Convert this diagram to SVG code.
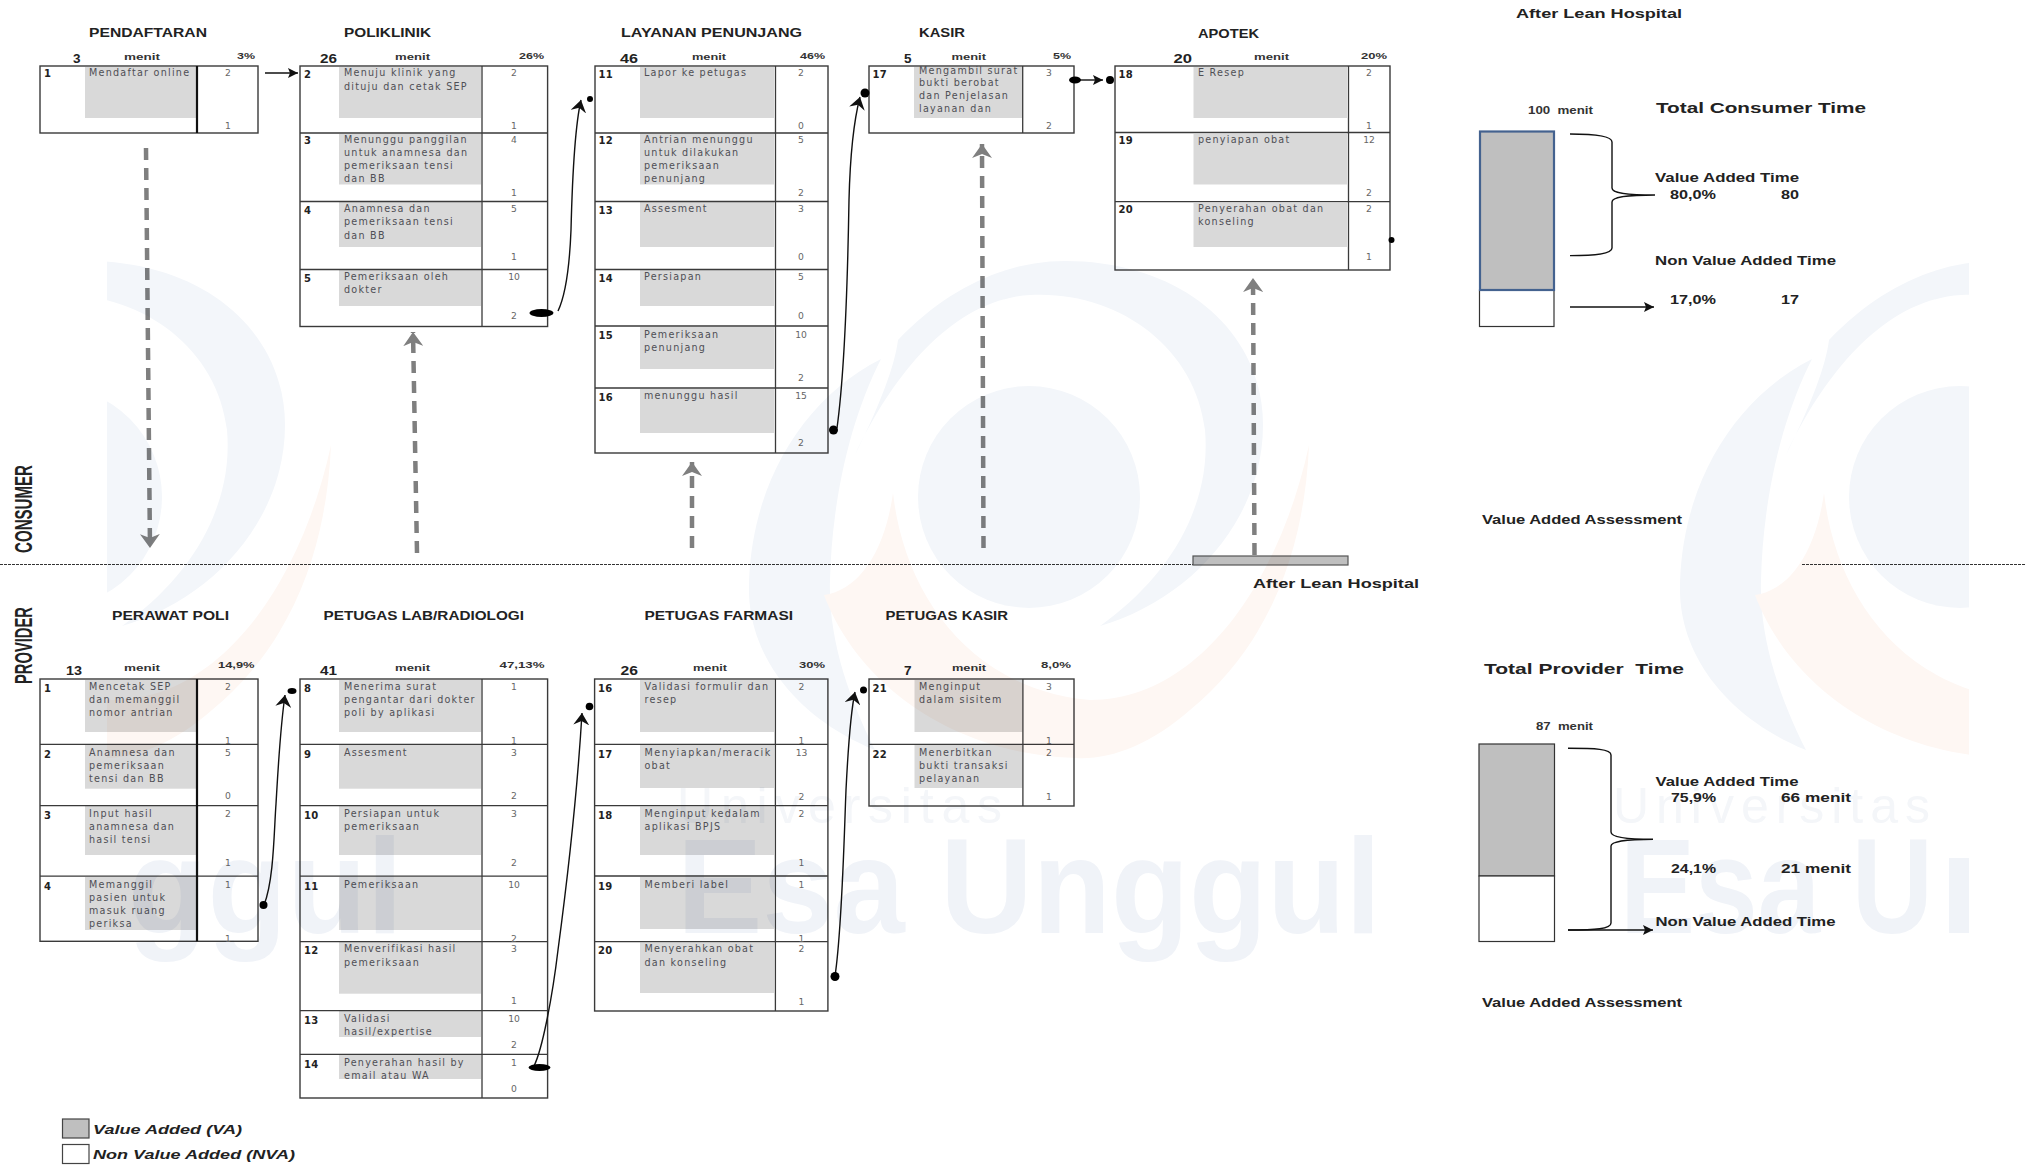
<svg xmlns="http://www.w3.org/2000/svg" width="2026" height="1166" viewBox="0 0 2026 1166">
<style>
text{font-family:"DejaVu Sans","Liberation Sans",sans-serif}
.g{fill:#d9d9d9}
.b{fill:none;stroke:#3a3a3a;stroke-width:1.4}
.l{stroke:#3a3a3a;stroke-width:1.3;fill:none}
.t{font-size:9.6px;letter-spacing:1.25px;fill:#4f4f55}
.v{font-size:9.2px;fill:#666;text-anchor:middle}
.n{font-size:10px;font-weight:700;fill:#222;letter-spacing:.3px}
.h,.s,.m{font-family:"Liberation Sans",sans-serif;font-weight:700;fill:#222}
.h{font-size:12px}
.s{font-size:12px}
.m{font-size:8.6px;fill:#333}
.big{font-size:13.5px;fill:#222;font-family:"Liberation Sans",sans-serif;font-weight:700}
.dash{fill:none;stroke:#7f7f7f;stroke-width:4.5;stroke-dasharray:12 8}
.conn{fill:none;stroke:#111;stroke-width:1.4}
.wb{fill:#f3f6fa}
.wp{fill:#fef7f3}
.we{font-family:"Liberation Sans",sans-serif;font-weight:700;font-size:135px;fill:#f0f3f8}
.wu{font-family:"Liberation Sans",sans-serif;font-size:50px;fill:#f4f6f9}
.leg{font-family:"Liberation Sans",sans-serif;font-weight:700;font-style:italic;font-size:13.5px;fill:#222}
.side{font-family:"Liberation Sans",sans-serif;font-size:23px;font-weight:700;fill:#222}
</style>
<defs>
<marker id="ga" markerUnits="userSpaceOnUse" markerWidth="16" markerHeight="20" refX="14" refY="10" orient="auto"><path d="M0,0 L14,10 L0,20 L4,10Z" fill="#7f7f7f"/></marker>
<marker id="ka" markerUnits="userSpaceOnUse" markerWidth="14" markerHeight="16" refX="12" refY="8" orient="auto"><path d="M0,0 L12,8 L0,16 L4,8Z" fill="#111"/></marker>
<marker id="kb" markerUnits="userSpaceOnUse" markerWidth="11" markerHeight="10" refX="10" refY="5" orient="auto"><path d="M0,0 L10,5 L0,10 L2,5Z" fill="#111"/></marker>
<clipPath id="wc"><rect x="107" y="200" width="1862" height="780"/></clipPath>
<g id="logo">
<circle class="wb" cx="1029" cy="497" r="111"/>
<path class="wb" d="M855,455 C880,405 895,365 898,340 C950,285 1010,261 1065,261 C1180,261 1263,330 1263,425 C1263,520 1190,600 1100,626 C1165,580 1212,510 1205,430 C1195,345 1115,290 1030,295 C950,300 890,380 855,455Z"/>
<path class="wb" d="M881,359 C800,400 749,490 749,590 C749,650 790,715 875,750 C850,700 828,640 830,580 C832,500 850,420 881,359Z"/>
<path class="wp" d="M1309,445 C1305,540 1275,640 1190,710 C1150,745 1110,760 1076,758 C960,755 860,690 824,595 C860,590 885,550 893,493 C905,600 975,690 1090,700 C1200,700 1280,580 1309,445Z"/>
</g>
</defs>
<rect width="2026" height="1166" fill="#fff"/>

<g id="side-labels">
<text class="side" transform="translate(32,553) rotate(-90)" textLength="88" lengthAdjust="spacingAndGlyphs">CONSUMER</text>
<text class="side" transform="translate(32,684) rotate(-90)" textLength="77" lengthAdjust="spacingAndGlyphs">PROVIDER</text>
</g>

<g id="divider">
<path d="M0,564.5H1193M1802,564.5H2026" fill="none" stroke="#333" stroke-width="1" stroke-dasharray="3 1"/>
<rect x="1193" y="556" width="155" height="9" fill="#bfbfbf" stroke="#555" stroke-width="1.2"/>
</g>

<g id="pendaftaran">
<text class="h" x="89" y="37" textLength="118" lengthAdjust="spacingAndGlyphs">PENDAFTARAN</text>
<text class="big" x="73" y="63">3</text><text class="m" x="124" y="60" textLength="36" lengthAdjust="spacingAndGlyphs">menit</text><text class="m" x="237" y="58.5" textLength="18" lengthAdjust="spacingAndGlyphs">3%</text>
<rect class="g" x="85" y="67" width="111" height="51"/>
<rect class="b" x="40" y="66" width="218" height="67"/><path d="M197,66V133" stroke="#111" stroke-width="2.2"/>
<text class="n" x="44" y="77">1</text><text class="t" x="89" y="76">Mendaftar online</text><text class="v" x="228" y="76">2</text><text class="v" x="228" y="129">1</text>
</g>

<g id="poliklinik">
<text class="h" x="344" y="37" textLength="87" lengthAdjust="spacingAndGlyphs">POLIKLINIK</text>
<text class="big" x="320" y="63" textLength="17" lengthAdjust="spacingAndGlyphs">26</text><text class="m" x="395" y="60" textLength="35" lengthAdjust="spacingAndGlyphs">menit</text><text class="m" x="519" y="58.5" textLength="25" lengthAdjust="spacingAndGlyphs">26%</text>
<rect class="g" x="339" y="67" width="142" height="51"/><rect class="g" x="339" y="134" width="142" height="50.5"/><rect class="g" x="339" y="202" width="142" height="45"/><rect class="g" x="339" y="270" width="142" height="36"/>
<rect class="b" x="300" y="66" width="247.6" height="260.5"/><path class="l" d="M300,133H547.6M300,201.5H547.6M300,269.5H547.6M482,66V326.5"/>
<text class="n" x="304" y="78">2</text><text class="t" x="344" y="76">Menuju klinik yang</text><text class="t" x="344" y="90">dituju dan cetak SEP</text><text class="v" x="514" y="76">2</text><text class="v" x="514" y="129">1</text>
<text class="n" x="304" y="144">3</text><text class="t" x="344" y="142.5">Menunggu panggilan</text><text class="t" x="344" y="155.5">untuk anamnesa dan</text><text class="t" x="344" y="168.5">pemeriksaan tensi</text><text class="t" x="344" y="181.5">dan BB</text><text class="v" x="514" y="143">4</text><text class="v" x="514" y="195.5">1</text>
<text class="n" x="304" y="213.5">4</text><text class="t" x="344" y="212">Anamnesa dan</text><text class="t" x="344" y="225">pemeriksaan tensi</text><text class="t" x="344" y="239">dan BB</text><text class="v" x="514" y="212">5</text><text class="v" x="514" y="259.5">1</text>
<text class="n" x="304" y="281.5">5</text><text class="t" x="344" y="280">Pemeriksaan oleh</text><text class="t" x="344" y="293">dokter</text><text class="v" x="514" y="280">10</text><text class="v" x="514" y="318.5">2</text>
</g>

<g id="layanan-penunjang">
<text class="h" x="621" y="37" textLength="181" lengthAdjust="spacingAndGlyphs">LAYANAN PENUNJANG</text>
<text class="big" x="620" y="63" textLength="18" lengthAdjust="spacingAndGlyphs">46</text><text class="m" x="692" y="60" textLength="34" lengthAdjust="spacingAndGlyphs">menit</text><text class="m" x="800" y="58.5" textLength="25" lengthAdjust="spacingAndGlyphs">46%</text>
<rect class="g" x="640" y="67" width="134" height="51"/><rect class="g" x="640" y="134" width="134" height="50.5"/><rect class="g" x="640" y="202" width="134" height="45"/><rect class="g" x="640" y="270" width="134" height="36"/><rect class="g" x="640" y="327" width="134" height="42"/><rect class="g" x="640" y="389" width="134" height="44"/>
<rect class="b" x="595" y="66" width="233" height="387"/><path class="l" d="M595,133H828M595,201.5H828M595,269.5H828M595,326H828M595,388H828M775.5,66V453"/>
<text class="n" x="598.5" y="78">11</text><text class="t" x="644" y="76">Lapor ke petugas</text><text class="v" x="801" y="76">2</text><text class="v" x="801" y="129">0</text>
<text class="n" x="598.5" y="144">12</text><text class="t" x="644" y="143">Antrian menunggu</text><text class="t" x="644" y="156">untuk dilakukan</text><text class="t" x="644" y="169">pemeriksaan</text><text class="t" x="644" y="181.5">penunjang</text><text class="v" x="801" y="143">5</text><text class="v" x="801" y="195.5">2</text>
<text class="n" x="598.5" y="213.5">13</text><text class="t" x="644" y="212">Assesment</text><text class="v" x="801" y="212">3</text><text class="v" x="801" y="259.5">0</text>
<text class="n" x="598.5" y="281.5">14</text><text class="t" x="644" y="280">Persiapan</text><text class="v" x="801" y="280">5</text><text class="v" x="801" y="318.5">0</text>
<text class="n" x="598.5" y="339">15</text><text class="t" x="644" y="338">Pemeriksaan</text><text class="t" x="644" y="351">penunjang</text><text class="v" x="801" y="338">10</text><text class="v" x="801" y="381">2</text>
<text class="n" x="598.5" y="400.5">16</text><text class="t" x="644" y="399">menunggu hasil</text><text class="v" x="801" y="399">15</text><text class="v" x="801" y="445.5">2</text>
</g>

<g id="kasir">
<text class="h" x="919" y="37" textLength="46" lengthAdjust="spacingAndGlyphs">KASIR</text>
<text class="big" x="904" y="63">5</text><text class="m" x="951.5" y="60" textLength="34.5" lengthAdjust="spacingAndGlyphs">menit</text><text class="m" x="1053" y="58.5" textLength="18" lengthAdjust="spacingAndGlyphs">5%</text>
<rect class="g" x="914" y="67" width="108" height="51"/>
<rect class="b" x="869" y="66" width="205" height="67"/><path class="l" d="M1022.7,66V133"/>
<text class="n" x="872.5" y="78">17</text><text class="t" x="919" y="73.5">Mengambil surat</text><text class="t" x="919" y="86">bukti berobat</text><text class="t" x="919" y="99">dan Penjelasan</text><text class="t" x="919" y="112">layanan dan</text><text class="v" x="1049" y="76">3</text><text class="v" x="1049" y="129">2</text>
</g>

<g id="apotek">
<text class="h" x="1198" y="37.5" textLength="61" lengthAdjust="spacingAndGlyphs">APOTEK</text>
<text class="big" x="1173.5" y="63" textLength="18.5" lengthAdjust="spacingAndGlyphs">20</text><text class="m" x="1254" y="60" textLength="35" lengthAdjust="spacingAndGlyphs">menit</text><text class="m" x="1361" y="58.5" textLength="26" lengthAdjust="spacingAndGlyphs">20%</text>
<rect class="g" x="1193.5" y="67" width="153.5" height="51"/><rect class="g" x="1193.5" y="134" width="153.5" height="50.5"/><rect class="g" x="1193.5" y="203" width="153.5" height="44"/>
<rect class="b" x="1115" y="66" width="275" height="204"/><path class="l" d="M1115,132.5H1390M1115,201.7H1390M1348.5,66V270"/>
<text class="n" x="1118.5" y="78">18</text><text class="t" x="1198" y="76">E Resep</text><text class="v" x="1369" y="76">2</text><text class="v" x="1369" y="129">1</text>
<text class="n" x="1118.5" y="144">19</text><text class="t" x="1198" y="143">penyiapan obat</text><text class="v" x="1369" y="143">12</text><text class="v" x="1369" y="195.5">2</text>
<text class="n" x="1118.5" y="213">20</text><text class="t" x="1198" y="212">Penyerahan obat dan</text><text class="t" x="1198" y="225">konseling</text><text class="v" x="1369" y="212">2</text><text class="v" x="1369" y="260">1</text>
</g>

<g id="perawat-poli">
<text class="h" x="112" y="619.5" textLength="117" lengthAdjust="spacingAndGlyphs">PERAWAT POLI</text>
<text class="big" x="66" y="674.5" textLength="16" lengthAdjust="spacingAndGlyphs">13</text><text class="m" x="124" y="671" textLength="36" lengthAdjust="spacingAndGlyphs">menit</text><text class="m" x="218" y="667.5" textLength="36.5" lengthAdjust="spacingAndGlyphs">14,9%</text>
<rect class="g" x="85" y="680" width="111" height="52"/><rect class="g" x="85" y="745" width="111" height="43.7"/><rect class="g" x="85" y="806" width="111" height="49"/><rect class="g" x="85" y="877" width="111" height="53"/>
<rect class="b" x="40" y="679" width="218" height="262.3"/><path class="l" d="M40,744.3H258M40,805.6H258M40,876.2H258"/><path d="M197,679V941.3" stroke="#111" stroke-width="2.2"/>
<text class="n" x="44" y="692">1</text><text class="t" x="89" y="690">Mencetak SEP</text><text class="t" x="89" y="703">dan memanggil</text><text class="t" x="89" y="716">nomor antrian</text><text class="v" x="228" y="690">2</text><text class="v" x="228" y="744">1</text>
<text class="n" x="44" y="757.5">2</text><text class="t" x="89" y="755.5">Anamnesa dan</text><text class="t" x="89" y="768.5">pemeriksaan</text><text class="t" x="89" y="781.5">tensi dan BB</text><text class="v" x="228" y="755.5">5</text><text class="v" x="228" y="799">0</text>
<text class="n" x="44" y="819">3</text><text class="t" x="89" y="817">Input hasil</text><text class="t" x="89" y="830">anamnesa dan</text><text class="t" x="89" y="843">hasil tensi</text><text class="v" x="228" y="817">2</text><text class="v" x="228" y="866">1</text>
<text class="n" x="44" y="889.5">4</text><text class="t" x="89" y="887.5">Memanggil</text><text class="t" x="89" y="900.5">pasien untuk</text><text class="t" x="89" y="913.5">masuk ruang</text><text class="t" x="89" y="926.5">periksa</text><text class="v" x="228" y="887.5">1</text><text class="v" x="228" y="941.5">1</text>
</g>

<g id="petugas-lab">
<text class="h" x="323.5" y="619.5" textLength="200.5" lengthAdjust="spacingAndGlyphs">PETUGAS LAB/RADIOLOGI</text>
<text class="big" x="320" y="674.5" textLength="17" lengthAdjust="spacingAndGlyphs">41</text><text class="m" x="395" y="671" textLength="35" lengthAdjust="spacingAndGlyphs">menit</text><text class="m" x="499.5" y="667.5" textLength="45" lengthAdjust="spacingAndGlyphs">47,13%</text>
<rect class="g" x="339" y="680" width="142" height="52"/><rect class="g" x="339" y="745" width="142" height="43.7"/><rect class="g" x="339" y="806" width="142" height="49"/><rect class="g" x="339" y="877" width="142" height="53"/><rect class="g" x="339" y="942" width="142" height="51.7"/><rect class="g" x="339" y="1011" width="142" height="26"/><rect class="g" x="339" y="1055" width="142" height="24"/>
<rect class="b" x="300" y="679" width="247.6" height="419"/><path class="l" d="M300,744.3H547.6M300,805.6H547.6M300,876.2H547.6M300,941.6H547.6M300,1010.7H547.6M300,1054.4H547.6M482,679V1098"/>
<text class="n" x="304" y="692">8</text><text class="t" x="344" y="690">Menerima surat</text><text class="t" x="344" y="703">pengantar dari dokter</text><text class="t" x="344" y="716">poli by aplikasi</text><text class="v" x="514" y="690">1</text><text class="v" x="514" y="744">1</text>
<text class="n" x="304" y="757.5">9</text><text class="t" x="344" y="755.5">Assesment</text><text class="v" x="514" y="755.5">3</text><text class="v" x="514" y="799">2</text>
<text class="n" x="304" y="819">10</text><text class="t" x="344" y="817">Persiapan untuk</text><text class="t" x="344" y="830">pemeriksaan</text><text class="v" x="514" y="817">3</text><text class="v" x="514" y="866">2</text>
<text class="n" x="304" y="889.5">11</text><text class="t" x="344" y="887.5">Pemeriksaan</text><text class="v" x="514" y="887.5">10</text><text class="v" x="514" y="941.5">2</text>
<text class="n" x="304" y="953.5">12</text><text class="t" x="344" y="951.5">Menverifikasi hasil</text><text class="t" x="344" y="966">pemeriksaan</text><text class="v" x="514" y="951.5">3</text><text class="v" x="514" y="1004">1</text>
<text class="n" x="304" y="1024">13</text><text class="t" x="344" y="1022">Validasi</text><text class="t" x="344" y="1035">hasil/expertise</text><text class="v" x="514" y="1022">10</text><text class="v" x="514" y="1048">2</text>
<text class="n" x="304" y="1067.5">14</text><text class="t" x="344" y="1065.5">Penyerahan hasil by</text><text class="t" x="344" y="1078.5">email atau WA</text><text class="v" x="514" y="1065.5">1</text><text class="v" x="514" y="1091.5">0</text>
</g>

<g id="petugas-farmasi">
<text class="h" x="644.5" y="620" textLength="148.5" lengthAdjust="spacingAndGlyphs">PETUGAS FARMASI</text>
<text class="big" x="620.5" y="674.5" textLength="17.5" lengthAdjust="spacingAndGlyphs">26</text><text class="m" x="693" y="671" textLength="34" lengthAdjust="spacingAndGlyphs">menit</text><text class="m" x="799" y="667.5" textLength="26" lengthAdjust="spacingAndGlyphs">30%</text>
<rect class="g" x="640" y="680" width="134" height="52"/><rect class="g" x="640" y="745" width="134" height="43"/><rect class="g" x="640" y="806.5" width="134" height="48.5"/><rect class="g" x="640" y="877" width="134" height="52"/><rect class="g" x="640" y="942.5" width="134" height="50.5"/>
<rect class="b" x="594.6" y="679" width="233.3" height="332"/><path class="l" d="M594.6,744.3H827.9M594.6,805.7H827.9M594.6,876H827.9M594.6,941.7H827.9M775.4,679V1011"/>
<text class="n" x="598" y="692">16</text><text class="t" x="644.5" y="690">Validasi formulir dan</text><text class="t" x="644.5" y="703">resep</text><text class="v" x="801.5" y="690">2</text><text class="v" x="801.5" y="744">1</text>
<text class="n" x="598" y="757.5">17</text><text class="t" x="644.5" y="755.5" textLength="127" lengthAdjust="spacing">Menyiapkan/meracik</text><text class="t" x="644.5" y="768.5">obat</text><text class="v" x="801.5" y="755.5">13</text><text class="v" x="801.5" y="799.5">2</text>
<text class="n" x="598" y="819">18</text><text class="t" x="644.5" y="817">Menginput kedalam</text><text class="t" x="644.5" y="830">aplikasi BPJS</text><text class="v" x="801.5" y="817">2</text><text class="v" x="801.5" y="866">1</text>
<text class="n" x="598" y="889.5">19</text><text class="t" x="644.5" y="887.5">Memberi label</text><text class="v" x="801.5" y="887.5">1</text><text class="v" x="801.5" y="941.5">1</text>
<text class="n" x="598" y="953.5">20</text><text class="t" x="644.5" y="951.5">Menyerahkan obat</text><text class="t" x="644.5" y="965.5">dan konseling</text><text class="v" x="801.5" y="951.5">2</text><text class="v" x="801.5" y="1004.5">1</text>
</g>

<g id="petugas-kasir">
<text class="h" x="885.5" y="620" textLength="122.5" lengthAdjust="spacingAndGlyphs">PETUGAS KASIR</text>
<text class="big" x="904" y="674.5">7</text><text class="m" x="952" y="671" textLength="34" lengthAdjust="spacingAndGlyphs">menit</text><text class="m" x="1041" y="667.5" textLength="30" lengthAdjust="spacingAndGlyphs">8,0%</text>
<rect class="g" x="914.5" y="680" width="108" height="52"/><rect class="g" x="914.5" y="745" width="108" height="43"/>
<rect class="b" x="869" y="679" width="205" height="127"/><path class="l" d="M869,744.3H1074M1022.9,679V806"/>
<text class="n" x="872.5" y="692">21</text><text class="t" x="919" y="690">Menginput</text><text class="t" x="919" y="703">dalam sisitem</text><text class="v" x="1049" y="690">3</text><text class="v" x="1049" y="744">1</text>
<text class="n" x="872.5" y="757.5">22</text><text class="t" x="919" y="755.5">Menerbitkan</text><text class="t" x="919" y="768.5">bukti transaksi</text><text class="t" x="919" y="781.5">pelayanan</text><text class="v" x="1049" y="755.5">2</text><text class="v" x="1049" y="799.5">1</text>
</g>

<g id="consumer-summary">
<text class="s" x="1516" y="18" textLength="166" lengthAdjust="spacingAndGlyphs">After Lean Hospital</text>
<text class="m" x="1528" y="114" textLength="65" lengthAdjust="spacingAndGlyphs" style="font-size:10px;white-space:pre">100  menit</text>
<text class="s" x="1656" y="113" textLength="210" lengthAdjust="spacingAndGlyphs" style="font-size:15.5px">Total Consumer Time</text>
<rect x="1479.5" y="290" width="74.5" height="36.5" fill="#fff" stroke="#333" stroke-width="1.2"/>
<rect x="1480" y="131.5" width="74" height="158.5" fill="#bfbfbf" stroke="#44628f" stroke-width="2.2"/>
<path class="conn" d="M1570,134 C1595,134 1612,136 1612,142 L1612,188 C1612,193 1625,195 1655,195 C1625,195 1612,197 1612,202 L1612,248 C1612,254 1595,255.6 1570,255.6"/>
<text class="s" x="1655" y="182" textLength="144" lengthAdjust="spacingAndGlyphs">Value Added Time</text>
<text class="s" x="1670" y="199" textLength="46" lengthAdjust="spacingAndGlyphs">80,0%</text><text class="s" x="1781" y="199" textLength="18" lengthAdjust="spacingAndGlyphs">80</text>
<text class="s" x="1655" y="265" textLength="181" lengthAdjust="spacingAndGlyphs">Non Value Added Time</text>
<text class="s" x="1670" y="304" textLength="46" lengthAdjust="spacingAndGlyphs">17,0%</text><text class="s" x="1781" y="304" textLength="18" lengthAdjust="spacingAndGlyphs">17</text>
<text class="s" x="1482" y="524" textLength="200" lengthAdjust="spacingAndGlyphs">Value Added Assessment</text>
<text class="s" x="1253" y="588" textLength="166" lengthAdjust="spacingAndGlyphs">After Lean Hospital</text>
</g>

<g id="provider-summary">
<text class="s" x="1484" y="674" textLength="200" lengthAdjust="spacingAndGlyphs" style="font-size:15.5px;white-space:pre">Total Provider  Time</text>
<text class="m" x="1536" y="729.5" textLength="57" lengthAdjust="spacingAndGlyphs" style="font-size:10px;white-space:pre">87  menit</text>
<rect x="1479" y="744" width="75.5" height="132" fill="#bfbfbf" stroke="#333" stroke-width="1.2"/>
<rect x="1479" y="876" width="75.5" height="65.5" fill="#fff" stroke="#333" stroke-width="1.2"/>
<path class="conn" d="M1568,748.3 C1595,748.3 1611,749 1611,755 L1611,832 C1611,837 1625,839.3 1653,839.3 C1625,839.3 1611,842 1611,846 L1611,923 C1611,929 1595,930 1568,930"/>
<text class="s" x="1655.5" y="785.5" textLength="143" lengthAdjust="spacingAndGlyphs">Value Added Time</text>
<text class="s" x="1671" y="802" textLength="45" lengthAdjust="spacingAndGlyphs">75,9%</text><text class="s" x="1781" y="802" textLength="70" lengthAdjust="spacingAndGlyphs">66 menit</text>
<text class="s" x="1671" y="872.5" textLength="45" lengthAdjust="spacingAndGlyphs">24,1%</text><text class="s" x="1781" y="872.5" textLength="70" lengthAdjust="spacingAndGlyphs">21 menit</text>
<text class="s" x="1655.5" y="926" textLength="180" lengthAdjust="spacingAndGlyphs">Non Value Added Time</text>
<text class="s" x="1482" y="1007" textLength="200" lengthAdjust="spacingAndGlyphs">Value Added Assessment</text>
</g>

<g id="legend">
<rect x="62.5" y="1119" width="26.5" height="19" fill="#bfbfbf" stroke="#444" stroke-width="1.2"/>
<rect x="62.5" y="1144.5" width="26.5" height="19" fill="#fff" stroke="#444" stroke-width="1.2"/>
<text class="leg" x="93" y="1133.5" textLength="149" lengthAdjust="spacingAndGlyphs">Value Added (VA)</text>
<text class="leg" x="93" y="1158.5" textLength="202" lengthAdjust="spacingAndGlyphs">Non Value Added (NVA)</text>
</g>

<g id="connectors">
<path class="dash" d="M146,148 L150,548" marker-end="url(#ga)"/>
<path class="dash" d="M417,553 L413,332" marker-end="url(#ga)"/>
<path class="dash" d="M692,548 L692,462" marker-end="url(#ga)"/>
<path class="dash" d="M983.5,548 L982,144" marker-end="url(#ga)"/>
<path class="dash" d="M1254.5,555 L1253,278" marker-end="url(#ga)"/>
<path class="conn" d="M265,73 H298" marker-end="url(#kb)"/>
<path class="conn" d="M558,311 C568,290 570,255 571,230 C572,190 574,130 581,100" marker-end="url(#ka)"/>
<path class="conn" d="M837,428 C845,370 848,260 849,200 C850,160 854,120 860,97" marker-end="url(#ka)"/>
<path class="conn" d="M1075,80 H1103" stroke-width="1" marker-end="url(#kb)"/>
<path class="conn" d="M264,905 C274,880 274,830 276,804 C278,770 280,730 285,695" marker-end="url(#ka)"/>
<path class="conn" d="M534,1066 C542,1050 552,1000 558,950 C570,860 578,780 582,713" marker-end="url(#ka)"/>
<path class="conn" d="M835,976 C842,930 844,840 846,790 C848,750 850,715 855,692" marker-end="url(#ka)"/>
<g fill="#000">
<ellipse cx="541.5" cy="313" rx="12" ry="4"/><circle cx="590" cy="99" r="3"/>
<circle cx="833.5" cy="430" r="4.5"/><circle cx="865" cy="93" r="4.5"/>
<ellipse cx="1075" cy="80" rx="6" ry="3.5"/><circle cx="1110" cy="80" r="4"/><circle cx="1391.5" cy="240" r="3"/>
<circle cx="263.5" cy="905" r="4"/><ellipse cx="292" cy="691" rx="4.5" ry="3"/>
<ellipse cx="539.5" cy="1067.5" rx="11" ry="3.5"/><circle cx="589.5" cy="706.5" r="3.8"/>
<circle cx="835" cy="976.5" r="4.5"/><circle cx="863.5" cy="690" r="3.5"/>
</g>
<path class="conn" d="M1570,307 H1654" stroke-width="1" marker-end="url(#kb)"/>
<path class="conn" d="M1568,930 H1653" marker-end="url(#kb)"/>
</g>

<g id="watermark" clip-path="url(#wc)" style="mix-blend-mode:multiply">
<use href="#logo" transform="translate(-978,0)"/><use href="#logo"/><use href="#logo" transform="translate(931,0)"/>
<text class="we" x="677" y="933" textLength="704" lengthAdjust="spacingAndGlyphs">Esa Unggul</text>
<text class="we" x="128" y="933" textLength="275" lengthAdjust="spacingAndGlyphs">ggul</text>
<text class="we" x="1620" y="933" textLength="313" lengthAdjust="spacingAndGlyphs">Esa U</text>
<rect x="1949" y="858" width="20" height="75" fill="#f0f3f8"/>
<text class="wu" x="677" y="823" textLength="325">Universitas</text>
<text class="wu" x="1613" y="823" textLength="317">Universitas</text>
</g>
</svg>
